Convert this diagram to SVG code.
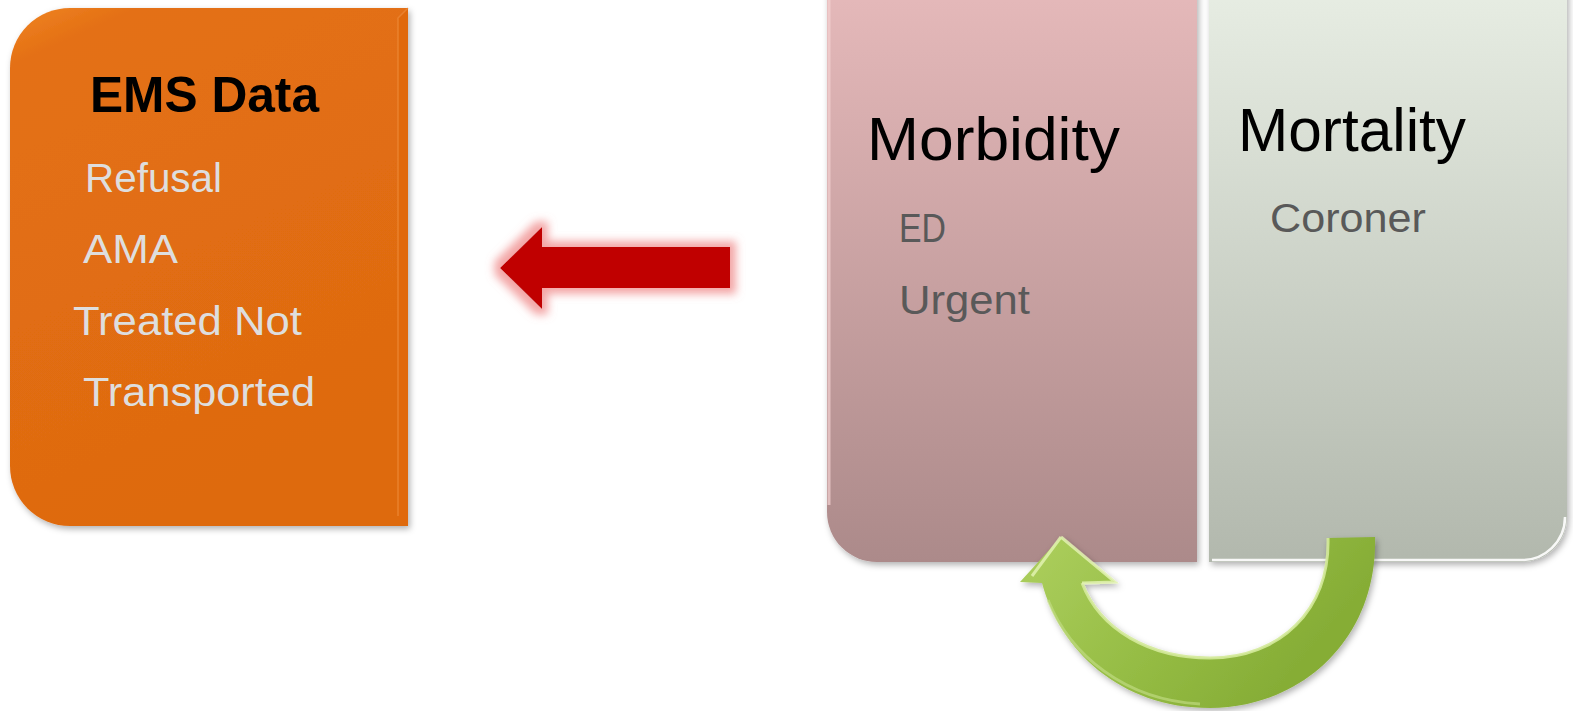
<svg xmlns="http://www.w3.org/2000/svg" width="1573" height="711" viewBox="0 0 1573 711">
  <style>
    .t { font-family: "Liberation Sans", Arial, sans-serif; }
    .ems-title { font-size: 50px; font-weight: bold; fill: #000000; }
    .ems-item { font-size: 41px; fill: #dedede; }
    .panel-title { font-size: 61px; fill: #000000; }
    .panel-item { font-size: 41px; fill: #595959; }
  </style>
  <defs>
    <linearGradient id="gOrange" x1="0" y1="0" x2="0.35" y2="1">
      <stop offset="0" stop-color="#f08524"/>
      <stop offset="0.1" stop-color="#e47014"/>
      <stop offset="1" stop-color="#de6a10"/>
    </linearGradient>
    <linearGradient id="gMorb" x1="0" y1="0" x2="0" y2="562" gradientUnits="userSpaceOnUse">
      <stop offset="0" stop-color="#e4b8b9"/>
      <stop offset="1" stop-color="#ac8a8a"/>
    </linearGradient>
    <linearGradient id="gMort" x1="0" y1="0" x2="0" y2="562" gradientUnits="userSpaceOnUse">
      <stop offset="0" stop-color="#e6ece2"/>
      <stop offset="1" stop-color="#b2b8ad"/>
    </linearGradient>
    <linearGradient id="gGreen" x1="1060" y1="540" x2="1260" y2="710" gradientUnits="userSpaceOnUse">
      <stop offset="0" stop-color="#a9cc5a"/>
      <stop offset="0.5" stop-color="#96bd45"/>
      <stop offset="1" stop-color="#86ad36"/>
    </linearGradient>
    <filter id="shadow" x="-10%" y="-10%" width="120%" height="120%">
      <feDropShadow dx="2" dy="3" stdDeviation="3" flood-color="#000" flood-opacity="0.3"/>
    </filter>
    <filter id="redGlow" x="-20%" y="-40%" width="140%" height="180%">
      <feMorphology in="SourceAlpha" operator="dilate" radius="6" result="d"/>
      <feGaussianBlur in="d" stdDeviation="4.5" result="b"/>
      <feFlood flood-color="#f09090" flood-opacity="0.8"/>
      <feComposite in2="b" operator="in" result="glow"/>
      <feMerge>
        <feMergeNode in="glow"/>
        <feMergeNode in="SourceGraphic"/>
      </feMerge>
    </filter>
  </defs>

  <rect x="0" y="0" width="1573" height="711" fill="#ffffff"/>

  <g id="ems-data">
    <path d="M70 8 H408 V526 H70 A60 60 0 0 1 10 466 V68 A60 60 0 0 1 70 8 Z" fill="url(#gOrange)" filter="url(#shadow)"/>
    <path d="M408 8 L398 18 V516 L408 526 Z" fill="#e0690c"/>
    <path d="M408 8 L398 18 V516" fill="none" stroke="#ec8a3a" stroke-width="1.5" opacity="0.7"/>
    <text class="t ems-title" x="90" y="112" textLength="229" lengthAdjust="spacingAndGlyphs">EMS Data</text>
    <text class="t ems-item" x="85" y="192" textLength="137" lengthAdjust="spacingAndGlyphs">Refusal</text>
    <text class="t ems-item" x="83" y="263" textLength="95" lengthAdjust="spacingAndGlyphs">AMA</text>
    <text class="t ems-item" x="73" y="335" textLength="229" lengthAdjust="spacingAndGlyphs">Treated Not</text>
    <text class="t ems-item" x="83" y="406" textLength="232" lengthAdjust="spacingAndGlyphs">Transported</text>
  </g>

  <g id="morbidity">
    <path d="M827 -60 H1197 V562 H877 A50 50 0 0 1 827 512 Z" fill="url(#gMorb)" filter="url(#shadow)"/>
    <path d="M829 -60 V505" stroke="#f4d2d2" stroke-width="3" fill="none" opacity="0.7"/>
    <text class="t panel-title" x="867" y="160" textLength="253" lengthAdjust="spacingAndGlyphs">Morbidity</text>
    <text class="t panel-item" x="899" y="242" textLength="47" lengthAdjust="spacingAndGlyphs">ED</text>
    <text class="t panel-item" x="899" y="314" textLength="131" lengthAdjust="spacingAndGlyphs">Urgent</text>
  </g>

  <g id="mortality">
    <path d="M1209 -60 H1567 V517 A45 45 0 0 1 1522 562 H1209 Z" fill="url(#gMort)" filter="url(#shadow)"/>
    <path d="M1212 560 H1520 A43 43 0 0 0 1565 517" stroke="#ffffff" stroke-width="2.5" fill="none" opacity="0.9"/>
    <text class="t panel-title" x="1238" y="151" textLength="228" lengthAdjust="spacingAndGlyphs">Mortality</text>
    <text class="t panel-item" x="1270" y="232" textLength="156" lengthAdjust="spacingAndGlyphs">Coroner</text>
  </g>

  <g id="connectors">
    <path id="red-arrow" d="M500 268 L542 227 V247 H730 V288 H542 V309 Z" fill="#c00000" filter="url(#redGlow)"/>
    <g id="green-arrow" filter="url(#shadow)">
      <path d="M1375 537 C1378 640 1300 708 1210 708 C1120 708 1060 650 1042 583 L1020 582 L1061 537 L1115 582 L1082 583 C1100 630 1150 658 1210 658 C1280 658 1330 610 1328 538 Z" fill="url(#gGreen)"/>
      <path d="M1082 583 C1100 630 1150 658 1210 658 C1280 658 1330 610 1328 538" fill="none" stroke="#d4ea9a" stroke-width="3" opacity="0.9"/>
      <path d="M1061 537 L1115 582 L1082 583 M1061 537 L1032 576" fill="none" stroke="#e2f2b0" stroke-width="3" opacity="0.85"/>
      <path d="M1048 600 C1070 655 1125 700 1200 704" fill="none" stroke="#c6e08a" stroke-width="3" opacity="0.6"/>
    </g>
  </g>
</svg>
